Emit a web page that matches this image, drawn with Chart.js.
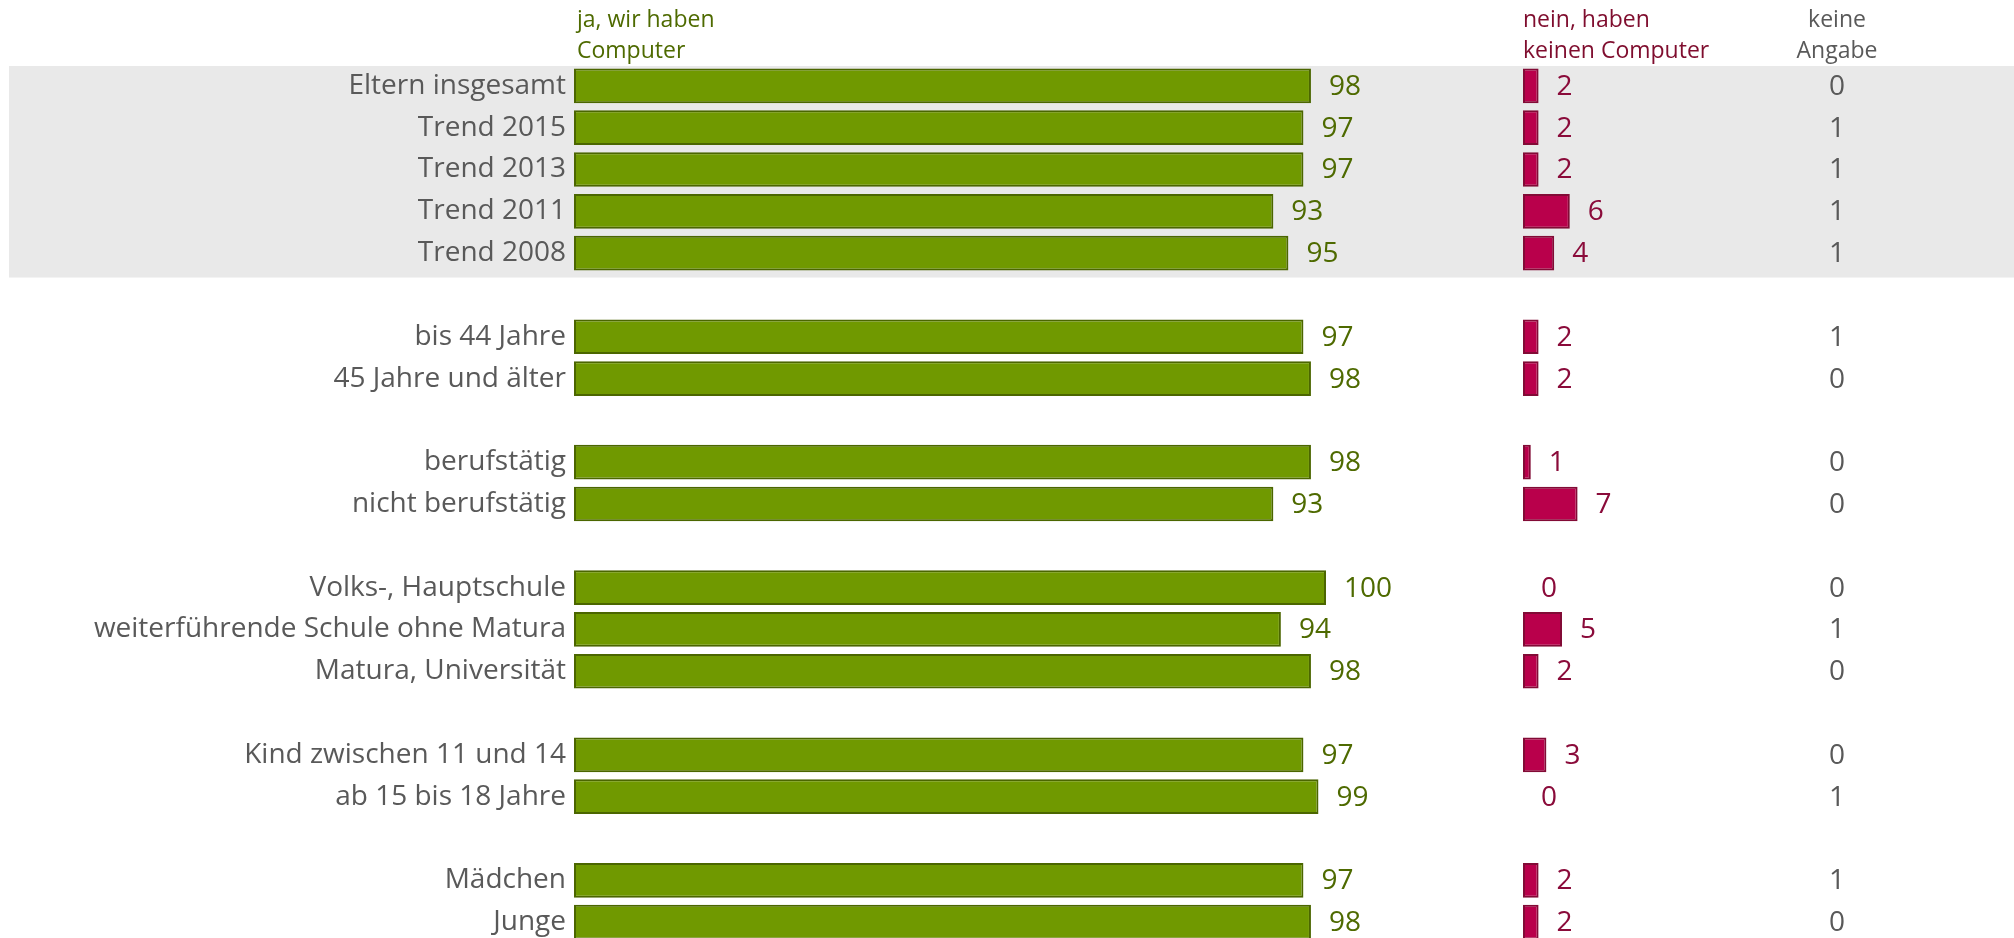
<!DOCTYPE html>
<html>
<head>
<meta charset="utf-8">
<script src="https://cdn.jsdelivr.net/npm/chart.js@4/dist/chart.umd.min.js"></script>
<style>
html,body{margin:0;padding:0;background:#fff;overflow:hidden;}
#c{display:block;}
</style>
</head>
<body>
<canvas id="c" width="2014" height="944" style="width:2014px;height:944px"></canvas>
<script>
const categories = ['Eltern insgesamt','Trend 2015','Trend 2013','Trend 2011','Trend 2008','',
  'bis 44 Jahre','45 Jahre und älter','',
  'berufstätig','nicht berufstätig','',
  'Volks-, Hauptschule','weiterführende Schule ohne Matura','Matura, Universität','',
  'Kind zwischen 11 und 14','ab 15 bis 18 Jahre','',
  'Mädchen','Junge'];
const jaValues    = [98,97,97,93,95,null,97,98,null,98,93,null,100,94,98,null,97,99,null,97,98];
const neinValues  = [2,2,2,6,4,null,2,2,null,1,7,null,0,5,2,null,3,0,null,2,2];
const keineValues = [0,1,1,1,1,null,1,0,null,0,0,null,0,1,0,null,0,1,null,1,0];
const seriesNames = [['ja, wir haben','Computer'],['nein, haben','keinen Computer'],['keine','Angabe']];
const bandRows = [0,4];

const FONT = '"Open Sans", sans-serif';
const GREEN = '#709900', GREEN_B = '#4b6600', GREEN_T = '#4e6a00';
const RED = '#b9004b', RED_B = '#820b36', RED_T = '#8a0b3a';
const GREY_T = '#595959';

const PLOT_LEFT = 574, PLOT_RIGHT = 2014, RED_ZERO = 1523, KEINE_X = 1837;
const GREEN_PX = 7.52, RED_PX = 7.8;
const greenMax = (PLOT_RIGHT - PLOT_LEFT) / GREEN_PX;
const redMin = -(RED_ZERO - PLOT_LEFT) / RED_PX;
const redMax = redMin + (PLOT_RIGHT - PLOT_LEFT) / RED_PX;

const bandPlugin = {
  id: 'band',
  beforeDraw(chart) {
    const y = chart.scales.y, ctx = chart.ctx;
    const half = (y.getPixelForValue(1) - y.getPixelForValue(0)) / 2;
    const top = y.getPixelForValue(bandRows[0]) - half + 1;
    const bot = y.getPixelForValue(bandRows[1]) + half + 3.5;
    ctx.save();
    ctx.fillStyle = '#e9e9e9';
    ctx.fillRect(9, top, chart.width - 9, bot - top);
    ctx.restore();
  }
};

const labelPlugin = {
  id: 'vlabels',
  afterDatasetsDraw(chart) {
    const ctx = chart.ctx;
    ctx.save();
    ctx.font = '28px ' + FONT;
    ctx.textBaseline = 'middle';
    const colors = [GREEN_T, RED_T];
    [0,1].forEach(di => {
      const meta = chart.getDatasetMeta(di);
      const vals = chart.data.datasets[di].data;
      meta.data.forEach((bar, i) => {
        if (vals[i] === null || vals[i] === undefined) return;
        ctx.fillStyle = colors[di];
        ctx.textAlign = 'left';
        ctx.fillText(String(vals[i]), bar.x + 18, bar.y + 1);
      });
    });
    const meta0 = chart.getDatasetMeta(0);
    ctx.fillStyle = GREY_T;
    ctx.textAlign = 'center';
    keineValues.forEach((v, i) => {
      if (v === null) return;
      ctx.fillText(String(v), KEINE_X, meta0.data[i].y + 1);
    });
    // headers
    ctx.font = '23px ' + FONT;
    const gx = chart.scales.xJa.getPixelForValue(0) + 3;
    const rx = chart.scales.xNein.getPixelForValue(0);
    ctx.textAlign = 'left';
    ctx.fillStyle = GREEN_T;
    ctx.fillText(seriesNames[0][0], gx, 20);
    ctx.fillText(seriesNames[0][1], gx, 51);
    ctx.fillStyle = '#7f0d2e';
    ctx.fillText(seriesNames[1][0], rx, 20);
    ctx.fillText(seriesNames[1][1], rx, 51);
    ctx.fillStyle = GREY_T;
    ctx.textAlign = 'center';
    ctx.fillText(seriesNames[2][0], KEINE_X, 20);
    ctx.fillText(seriesNames[2][1], KEINE_X, 51);
    ctx.restore();
  }
};

new Chart(document.getElementById('c'), {
  type: 'bar',
  data: {
    labels: categories,
    datasets: [
      { label: 'ja, wir haben Computer', data: jaValues, xAxisID: 'xJa',
        backgroundColor: GREEN, borderColor: GREEN_B, borderWidth: 2, borderSkipped: false,
        grouped: false, barPercentage: 0.83, categoryPercentage: 1 },
      { label: 'nein, haben keinen Computer', data: neinValues, xAxisID: 'xNein',
        backgroundColor: RED, borderColor: RED_B, borderWidth: 2, borderSkipped: false,
        grouped: false, barPercentage: 0.83, categoryPercentage: 1 }
    ]
  },
  options: {
    indexAxis: 'y',
    responsive: false,
    animation: false,
    devicePixelRatio: 1,
    layout: { padding: { top: 65, bottom: 1, left: 0, right: 0 } },
    plugins: { legend: { display: false }, tooltip: { enabled: false } },
    scales: {
      xJa: { type: 'linear', display: false, min: 0, max: greenMax },
      xNein: { type: 'linear', display: false, min: redMin, max: redMax },
      y: {
        type: 'category',
        position: 'left',
        grid: { display: false, drawTicks: false },
        border: { display: false },
        ticks: { color: GREY_T, font: { family: FONT, size: 28 }, padding: 8, autoSkip: false },
        afterFit(scale) {
          scale.width = PLOT_LEFT;
          scale.paddingTop = 0;
          scale.paddingBottom = 0;
        }
      }
    }
  },
  plugins: [bandPlugin, labelPlugin]
});
</script>
</body>
</html>
